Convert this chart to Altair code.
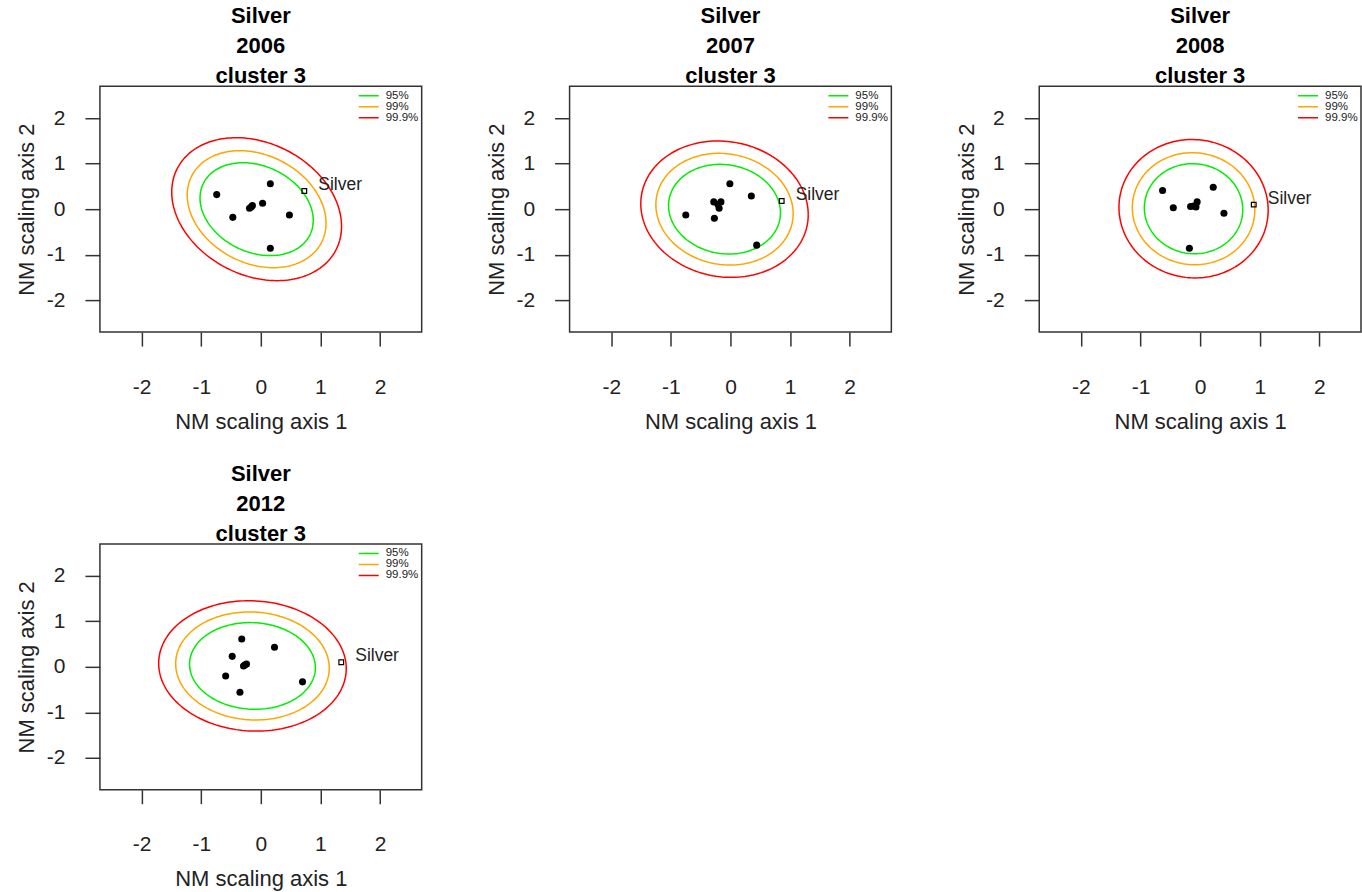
import altair as alt
import numpy as np
import pandas as pd

FONT = "Liberation Sans"

YEARS = ["2006", "2007", "2008", "2012"]
LEVELS = ["95%", "99%", "99.9%"]
LEVEL_COLORS = ["#00ee00", "#ffa500", "#ff0000"]

# ellipse centres, correlation and half extents (x, y) per level
ELL_CX = [-0.07, -0.10, -0.11, -0.14]
ELL_CY = [0.00, 0.00, 0.01, 0.02]
ELL_RHO = [-0.24, -0.08, -0.02, -0.04]
ELL_SX = [[0.950, 1.165, 1.425], [0.939, 1.152, 1.405], [0.826, 1.028, 1.252], [1.056, 1.289, 1.574]]
ELL_SY = [[1.020, 1.285, 1.570], [0.985, 1.227, 1.498], [0.989, 1.231, 1.520], [0.952, 1.187, 1.432]]

# cluster members
PTS_X = [
    [-0.74, 0.16, -0.19, -0.14, -0.16, 0.03, -0.47, 0.48, 0.16],
    [-0.01, 0.35, -0.28, -0.16, -0.19, -0.21, -0.75, -0.27, 0.44],
    [-0.63, 0.22, -0.45, -0.16, -0.05, -0.07, -0.11, 0.40, -0.18],
    [-0.32, 0.23, -0.48, -0.29, -0.24, -0.27, -0.59, 0.70, -0.35],
]
PTS_Y = [
    [0.32, 0.56, 0.02, 0.08, 0.05, 0.13, -0.18, -0.13, -0.86],
    [0.56, 0.29, 0.16, 0.16, 0.02, 0.10, -0.13, -0.20, -0.79],
    [0.41, 0.48, 0.03, 0.06, 0.16, 0.05, 0.07, -0.09, -0.86],
    [0.61, 0.43, 0.23, 0.02, 0.06, 0.04, -0.20, -0.33, -0.56],
]

SILVER_X = [0.73, 0.86, 0.90, 1.35]
SILVER_Y = [0.40, 0.18, 0.10, 0.10]
SILVER_LABEL = "Silver"

AXIS_TICKS = [-2, -1, 0, 1, 2]
X_TITLE = "NM scaling axis 1"
Y_TITLE = "NM scaling axis 2"
DOMAIN = [-2.7, 2.7]

W, H = 322, 246

# ---- tables ----
ell_rows = []
for p, year in enumerate(YEARS):
    for k, lev in enumerate(LEVELS):
        ell_rows.append({"year": year, "level": lev, "cx": ELL_CX[p], "cy": ELL_CY[p],
                         "sx": ELL_SX[p][k], "sy": ELL_SY[p][k], "rho": ELL_RHO[p]})
angles = pd.DataFrame({"t": np.linspace(0, 2 * np.pi, 181)})
ell_df = pd.DataFrame(ell_rows).merge(angles, how="cross")

pts_df = pd.DataFrame([{"year": y, "x": x, "y": v}
                       for y, xs, ys in zip(YEARS, PTS_X, PTS_Y) for x, v in zip(xs, ys)])
silver_df = pd.DataFrame({"year": YEARS, "x": SILVER_X, "y": SILVER_Y, "label": [SILVER_LABEL] * 4})

LABEL_EXPR = "'' + datum.value"

x_axis = alt.Axis(values=AXIS_TICKS, domain=False, grid=False, tickSize=14, tickWidth=1.5,
                  tickColor="#333", labelFontSize=21, labelFont=FONT, labelColor="#222",
                  labelExpr=LABEL_EXPR, labelPadding=30, labelFlush=False, titleFontSize=22,
                  titleFont=FONT, titleFontWeight="normal", titleColor="#222",
                  titleBaseline="alphabetic", titleX=W / 2, titleY=96, titleAlign="center")
y_axis = alt.Axis(values=AXIS_TICKS, domain=False, grid=False, tickSize=15, tickWidth=1.5,
                  tickColor="#333", labelFontSize=21, labelFont=FONT, labelColor="#222",
                  labelExpr=LABEL_EXPR, labelAngle=0, labelAlign="right", labelBaseline="middle",
                  labelPadding=20, labelFlush=False, titleFontSize=22, titleFont=FONT,
                  titleFontWeight="normal", titleColor="#222", titleAngle=270,
                  titleBaseline="alphabetic", titleX=-66, titleY=H / 2, titleAlign="center")

xs = alt.Scale(domain=DOMAIN, nice=False, zero=False)
ys = alt.Scale(domain=DOMAIN, nice=False, zero=False)


def panel(year):
    X = alt.X("x:Q", scale=xs, axis=x_axis, title=X_TITLE)
    Y = alt.Y("y:Q", scale=ys, axis=y_axis, title=Y_TITLE)
    ell = (
        alt.Chart(ell_df)
        .transform_filter(alt.datum.year == year)
        .transform_calculate(
            x="datum.cx + datum.sx * cos(datum.t)",
            y="datum.cy + datum.sy * (datum.rho * cos(datum.t) + sqrt(1 - datum.rho * datum.rho) * sin(datum.t))",
        )
        .mark_line(strokeWidth=1.5)
        .encode(
            x=X, y=Y, order="t:Q",
            color=alt.Color("level:N", scale=alt.Scale(domain=LEVELS, range=LEVEL_COLORS),
                            legend=alt.Legend(title=None, orient="none", legendX=258, legendY=5,
                                              symbolType="stroke", symbolSize=400,
                                              symbolStrokeWidth=1.5, labelFontSize=11.5,
                                              labelFont=FONT, labelColor="#222", clipHeight=9,
                                              rowPadding=-1, labelOffset=6, padding=0)),
        )
    )
    pts = (
        alt.Chart(pts_df).transform_filter(alt.datum.year == year)
        .mark_circle(size=50, color="black", opacity=1)
        .encode(x=X, y=Y)
    )
    sq = (
        alt.Chart(silver_df).transform_filter(alt.datum.year == year)
        .mark_point(shape="square", size=22, filled=False, color="black", strokeWidth=1.2, opacity=1)
        .encode(x=X, y=Y)
    )
    lab = (
        alt.Chart(silver_df).transform_filter(alt.datum.year == year)
        .mark_text(align="left", baseline="middle", dx=14, dy=-6, fontSize=17.5, font=FONT, color="#222")
        .encode(x=X, y=Y, text="label:N")
    )
    return alt.layer(ell, pts, sq, lab).properties(
        width=W, height=H,
        title=alt.TitleParams(["Silver", year, "cluster 3"], fontSize=22, fontWeight="bold",
                              font=FONT, lineHeight=30, anchor="middle", frame="group",
                              offset=-2, color="black"),
    )


chart = (
    alt.concat(*[panel(y) for y in YEARS], columns=3, spacing={"row": 29, "column": 62})
    .resolve_legend(color="independent")
    .configure_view(stroke="#333", strokeWidth=1.5)
    .properties(padding={"left": 15, "top": 4, "right": 0, "bottom": 0}, background="white")
)

chart.save("out.html", embed_options={"renderer": "svg", "actions": False})
